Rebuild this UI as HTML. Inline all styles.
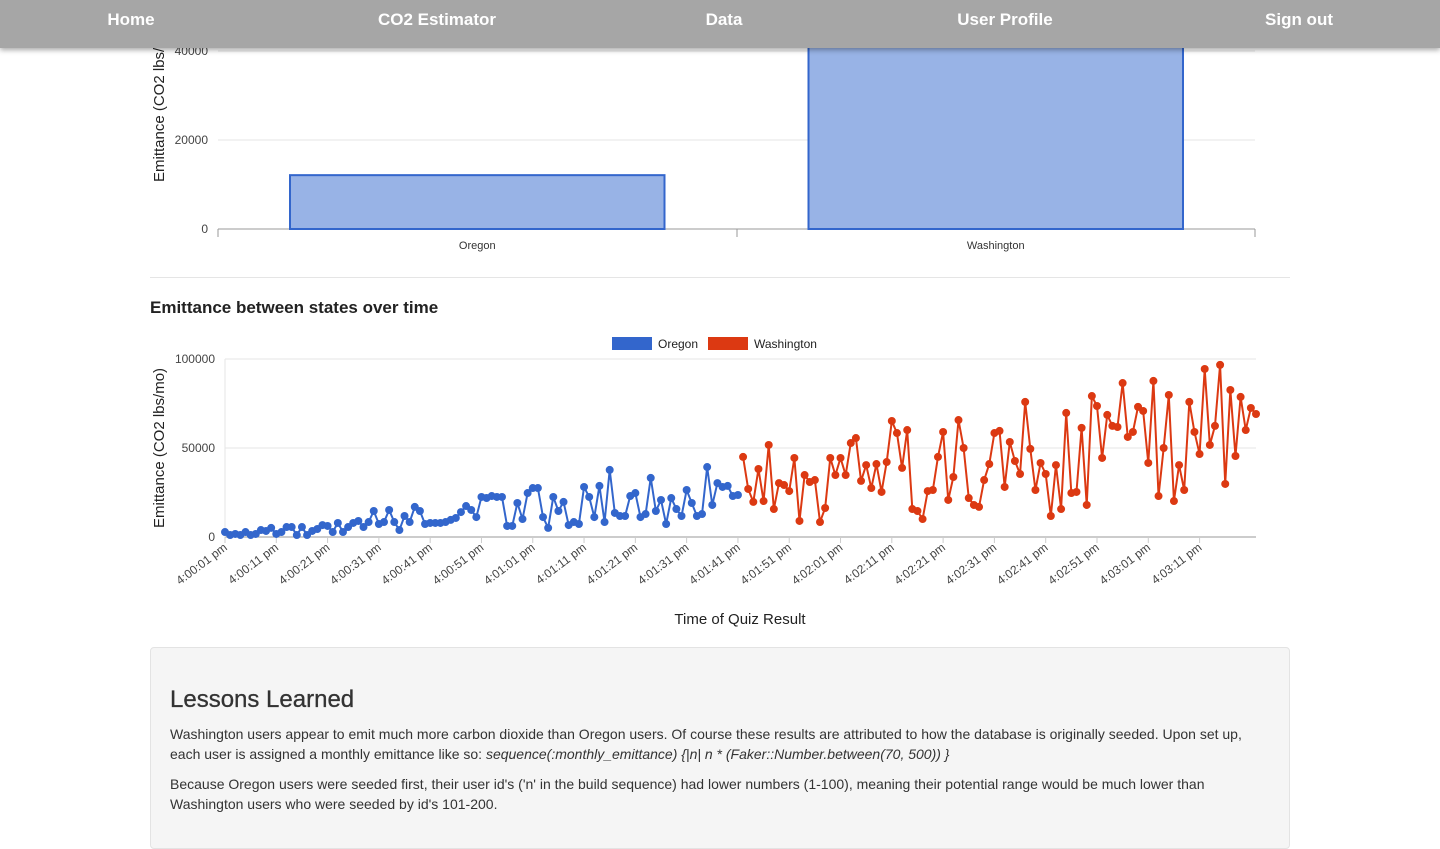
<!DOCTYPE html>
<html><head><meta charset="utf-8">
<style>
body{margin:0;width:1440px;height:825px;overflow:hidden;background:#fff;font-family:"Liberation Sans",Arial,sans-serif;position:relative;color:#333}
.nav{position:absolute;left:0;top:0;width:1440px;height:48px;background:#a6a6a6;box-shadow:0 2px 5px rgba(0,0,0,.35);z-index:5}
.nav span{position:absolute;top:10px;color:#fff;font-weight:bold;font-size:17px;transform:translateX(-50%);white-space:nowrap}
svg text{font-family:"Liberation Sans",Arial,sans-serif}
.panel{position:absolute;left:150px;top:647px;width:1138px;height:200px;background:#f5f5f5;border:1px solid #e3e3e3;border-radius:4px}
.panel h2{margin:0;position:absolute;left:19px;top:38px;font-size:24px;font-weight:500;color:#333;-webkit-text-stroke:0.3px #333}
.panel p{margin:0;position:absolute;left:19px;width:1100px;font-size:14px;line-height:20px;color:#333}
</style></head><body>
<div class="nav">
<span style="left:131px">Home</span>
<span style="left:437px">CO2 Estimator</span>
<span style="left:724px">Data</span>
<span style="left:1005px">User Profile</span>
<span style="left:1299px">Sign out</span>
</div>
<svg id="bar" width="1440" height="280" style="position:absolute;left:0;top:0"></svg>
<div style="position:absolute;left:150px;top:277px;width:1140px;height:1px;background:#e5e5e5"></div>
<div style="position:absolute;left:150px;top:298px;font-size:17px;font-weight:bold;color:#222">Emittance between states over time</div>
<svg id="line" width="1440" height="360" style="position:absolute;left:0;top:280px"></svg>
<div class="panel">
<h2>Lessons Learned</h2>
<p style="top:76px">Washington users appear to emit much more carbon dioxide than Oregon users. Of course these results are attributed to how the database is originally seeded. Upon set up, each user is assigned a monthly emittance like so: <i>sequence(:monthly_emittance) {|n| n * (Faker::Number.between(70, 500)) }</i></p>
<p style="top:126px">Because Oregon users were seeded first, their user id's ('n' in the build sequence) had lower numbers (1-100), meaning their potential range would be much lower than Washington users who were seeded by id's 101-200.</p>
</div>
<script>
const barCategories=["Oregon","Washington"];
const barValues=[12100,41000];
const barTicks=[0,20000,40000];
const oregon=[2.8,1.1,1.7,1.1,2.8,1.1,1.7,3.9,3.4,5.1,1.7,2.8,5.6,5.6,1.1,5.6,1.1,3.4,4.5,6.7,6.2,2.8,7.9,2.8,5.6,7.9,9,5.6,8.4,14.6,7.3,8.4,15.2,8.4,3.9,11.8,8.4,16.9,14.6,7.3,7.9,7.9,7.9,8.4,9.6,10.7,14,17.4,15.2,11.2,22.5,21.9,23,22.5,22.5,6.2,6.2,19.1,10.1,24.7,27.5,27.5,11.2,5.1,22.5,14.6,19.7,6.7,8.4,7.3,28.1,22.5,11.2,28.7,8.4,37.7,13.5,11.8,11.8,23,24.7,11.2,12.9,33.2,14.6,20.8,7.3,21.9,15.7,11.8,26.4,19.1,11.8,12.9,39.3,18,30.3,28.1,28.7,23,23.6].map(v=>v*1000);
const washington=[45,27,19.7,38.2,20.2,51.7,15.7,30.3,29.2,25.8,44.4,9,34.8,30.9,32,8.4,16.3,44.4,34.8,44.4,34.8,52.8,55.6,31.5,40.4,27.5,41,25.3,42.1,65.2,58.4,38.8,60.1,15.7,14.6,10.1,25.8,26.4,45,59,20.8,33.7,65.7,50,21.9,18,16.9,32,41,58.4,59.6,28.1,53.4,42.7,35.4,75.9,49.5,26.4,41.6,35.4,11.8,40.4,15.7,69.7,24.7,25.3,61.3,18,79.2,73.6,44.4,68.6,62.4,61.8,86.5,56.2,59,73.1,70.8,41.6,87.7,23,50,79.8,20.2,40.4,26.4,75.9,59,46.6,94.4,51.7,62.4,96.7,29.8,82.6,45.5,78.7,60.1,72.5,69.1].map(v=>v*1000);
const lineTicks=[0,50000,100000];
const timeLabels=["4:00:01 pm","4:00:11 pm","4:00:21 pm","4:00:31 pm","4:00:41 pm","4:00:51 pm","4:01:01 pm","4:01:11 pm","4:01:21 pm","4:01:31 pm","4:01:41 pm","4:01:51 pm","4:02:01 pm","4:02:11 pm","4:02:21 pm","4:02:31 pm","4:02:41 pm","4:02:51 pm","4:03:01 pm","4:03:11 pm"];
const NS="http://www.w3.org/2000/svg";
function mk(p,t,a,txt){const e=document.createElementNS(NS,t);for(const k in a)e.setAttribute(k,a[k]);if(txt!==undefined)e.textContent=txt;p.appendChild(e);return e;}
const bs=document.getElementById('bar');
const bY=v=>229-v/20000*89;
barTicks.forEach(t=>{
 const g=mk(bs,'line',{x1:218,x2:1255,y1:bY(t),y2:bY(t),stroke:t===0?'#999':'#e5e5e5'});
 
 
 const l=mk(bs,'text',{x:208,y:bY(t)+4,'text-anchor':'end','font-size':12,fill:'#444'},t);
 
 
});
[218,737,1255].forEach(x=>{const k=mk(bs,'line',{x1:x,x2:x,y1:229,y2:237,stroke:'#999'});
 
 });
const bandW=(1255-218)/barCategories.length;
barCategories.forEach((c,i)=>{
 const x0=218+i*bandW+72, w=bandW-144, v=barValues[i];
 const r=mk(bs,'rect',{x:x0,y:bY(v),width:w,height:bY(0)-bY(v),fill:'#98b3e6',stroke:'#3366cc','stroke-width':2});
 
 
 const t=mk(bs,'text',{x:218+i*bandW+bandW/2,y:249,'text-anchor':'middle','font-size':11,fill:'#333'},c);
 
 
});
const byl=mk(bs,'text',{x:0,y:0,transform:'translate(164,102) rotate(-90)','text-anchor':'middle','font-size':15,fill:'#222'},'Emittance (CO2 lbs/mo)');


const ls=document.getElementById('line');
const O=280, X0=225, X1=1256, n=oregon.length+washington.length;
const lx=i=>X0+i*(X1-X0)/(n-1);
const ly=v=>537-O-v/100000*178;
lineTicks.forEach(t=>{
 const g=mk(ls,'line',{x1:X0,x2:X1,y1:ly(t),y2:ly(t),stroke:t===0?'#999':'#e5e5e5'});
 
 
 const l=mk(ls,'text',{x:215,y:ly(t)+4,'text-anchor':'end','font-size':12,fill:'#444'},t);
 
 
});
mk(ls,'line',{x1:X0,x2:X0,y1:ly(100000),y2:ly(0),stroke:'#e5e5e5'});
timeLabels.forEach((s,j)=>{
 const x=lx(j*10);
 const k=mk(ls,'line',{x1:x,x2:x,y1:ly(0),y2:ly(0)+6,stroke:'#ccc'});
 
 
 const t=mk(ls,'text',{x:0,y:0,transform:`translate(${x+3},${ly(0)+12}) rotate(-37)`,'text-anchor':'end','font-size':12,fill:'#444'},s);
 
 
});
function series(arr,off,col,name){
 const pts=arr.map((v,i)=>lx(i+off)+','+ly(v)).join(' ');
 const p=mk(ls,'polyline',{points:pts,fill:'none',stroke:col,'stroke-width':2});
 
 
 arr.forEach((v,i)=>{const c=mk(ls,'circle',{cx:lx(i+off),cy:ly(v),r:4,fill:col});
  
  });
}
series(oregon,0,'#3366cc','oregon');
series(washington,oregon.length,'#dc3912','washington');
const lg1=mk(ls,'rect',{x:612,y:57,width:40,height:13,fill:'#3366cc'});


const lt1=mk(ls,'text',{x:658,y:68,'font-size':12,fill:'#222'},'Oregon');


const lg2=mk(ls,'rect',{x:708,y:57,width:40,height:13,fill:'#dc3912'});


const lt2=mk(ls,'text',{x:754,y:68,'font-size':12,fill:'#222'},'Washington');


const yl=mk(ls,'text',{x:0,y:0,transform:'translate(164,168) rotate(-90)','text-anchor':'middle','font-size':15,fill:'#222'},'Emittance (CO2 lbs/mo)');


const xl=mk(ls,'text',{x:740,y:344,'text-anchor':'middle','font-size':15,fill:'#222'},'Time of Quiz Result');


</script>
</body></html>
